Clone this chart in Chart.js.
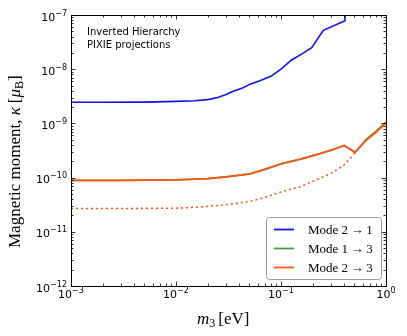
<!DOCTYPE html>
<html>
<head>
<meta charset="utf-8">
<script src="https://cdn.jsdelivr.net/npm/chart.js@4"></script>
<style>
  html, body { margin: 0; padding: 0; background: #fff; }
  canvas { display: block; }
</style>
</head>
<body>
<canvas id="kappaChart" width="407" height="336"></canvas>
<script>
// m3 values [eV] and kappa limits [mu_B]
const blueMass = [0.001, 0.002, 0.005, 0.01, 0.015, 0.02, 0.025, 0.03, 0.035, 0.043, 0.0507, 0.063, 0.08, 0.1, 0.126, 0.157, 0.196, 0.253, 0.407, 0.407];
const mode21 = [2.45e-9, 2.45e-9, 2.47e-9, 2.55e-9, 2.62e-9, 2.75e-9, 3.0e-9, 3.4e-9, 3.9e-9, 4.5e-9, 5.3e-9, 6.1e-9, 7.4e-9, 1.0e-8, 1.48e-8, 1.9e-8, 2.5e-8, 5.2e-8, 7.8e-8, 1e-6];

const modeMass = [0.001, 0.003, 0.01, 0.02, 0.03, 0.0507, 0.07, 0.1, 0.15, 0.235, 0.3, 0.40, 0.507, 0.655, 0.8, 1.0];
const mode13 = [8.9e-11, 8.9e-11, 9.1e-11, 9.6e-11, 1.03e-10, 1.17e-10, 1.42e-10, 1.79e-10, 2.17e-10, 2.77e-10, 3.2e-10, 3.93e-10, 2.92e-10, 5.2e-10, 7.1e-10, 1.05e-9];
const mode23 = [8.9e-11, 8.9e-11, 9.1e-11, 9.6e-11, 1.03e-10, 1.17e-10, 1.42e-10, 1.79e-10, 2.17e-10, 2.77e-10, 3.2e-10, 3.93e-10, 2.92e-10, 5.0e-10, 6.8e-10, 1.0e-9];

const dotMass = [0.001, 0.003, 0.01, 0.017, 0.03, 0.0507, 0.07, 0.105, 0.15, 0.219, 0.3, 0.39, 0.45, 0.507];
const mode23dot = [2.69e-11, 2.69e-11, 2.72e-11, 2.88e-11, 3.15e-11, 3.65e-11, 4.3e-11, 5.6e-11, 6.7e-11, 9.2e-11, 1.2e-10, 1.65e-10, 2.2e-10, 2.92e-10];

const xTickExps = [-3, -2, -1, 0];
const yTickExps = [-12, -11, -10, -9, -8, -7];
const legendLabels = ['Mode 2\u2009\u2192\u20091', 'Mode 1\u2009\u2192\u20093', 'Mode 2\u2009\u2192\u20093'];
const noteLines = ['Inverted Hierarchy', 'PIXIE projections'];

const BLUE = '#1010f0';
const GREEN = '#3f9f3f';
const ORANGE = '#ff5517';

function pts(xs, ys) {
  return xs.map((x, i) => ({ x: x, y: ys[i] }));
}

// draws "10" with a raised exponent (mathtext style minus)
function drawPow(ctx, exp, x, y, align) {
  const expText = String(exp).replace('-', '\u2212');
  ctx.font = '11px "DejaVu Sans"';
  const base = ctx.measureText('10').width;
  ctx.font = '8px "DejaVu Sans"';
  const sup = ctx.measureText(expText).width;
  const total = base + sup;
  let left = x;
  if (align === 'right') left = x - total;
  if (align === 'center') left = x - total / 2;
  ctx.textAlign = 'left';
  ctx.textBaseline = 'alphabetic';
  ctx.font = '11px "DejaVu Sans"';
  ctx.fillText('10', left, y);
  ctx.font = '8px "DejaVu Sans"';
  ctx.fillText(expText, left + base, y - 5);
}

const framePlugin = {
  id: 'frame',
  afterDraw(chart) {
    const ctx = chart.ctx;
    const a = chart.chartArea;
    const xs = chart.scales.x;
    const ys = chart.scales.y;
    ctx.save();
    ctx.fillStyle = '#000';
    ctx.strokeStyle = '#000';

    // box
    ctx.lineWidth = 1;
    ctx.strokeRect(Math.round(a.left) + 0.5, Math.round(a.top) + 0.5, Math.round(a.right - a.left), Math.round(a.bottom - a.top));

    // inward ticks on all four sides
    ctx.lineWidth = 0.8;
    ctx.beginPath();
    xTickExps.forEach((e, i) => {
      for (let k = 1; k <= 9; k++) {
        if (k > 1 && i === xTickExps.length - 1) break;
        const px = Math.round(xs.getPixelForValue(k * Math.pow(10, e))) + 0.5;
        const len = k === 1 ? 4.5 : 2.5;
        ctx.moveTo(px, a.bottom); ctx.lineTo(px, a.bottom - len);
        ctx.moveTo(px, a.top); ctx.lineTo(px, a.top + len);
      }
    });
    yTickExps.forEach((e, i) => {
      for (let k = 1; k <= 9; k++) {
        if (k > 1 && i === yTickExps.length - 1) break;
        const py = Math.round(ys.getPixelForValue(k * Math.pow(10, e))) + 0.5;
        const len = k === 1 ? 4.5 : 2.5;
        ctx.moveTo(a.left, py); ctx.lineTo(a.left + len, py);
        ctx.moveTo(a.right, py); ctx.lineTo(a.right - len, py);
      }
    });
    ctx.stroke();

    // tick labels
    xTickExps.forEach(e => {
      drawPow(ctx, e, xs.getPixelForValue(Math.pow(10, e)), a.bottom + 12, 'center');
    });
    yTickExps.forEach(e => {
      drawPow(ctx, e, a.left - 4, ys.getPixelForValue(Math.pow(10, e)) + 5.5, 'right');
    });

    // x axis title: m_3 [eV]
    ctx.textAlign = 'left';
    ctx.textBaseline = 'alphabetic';
    let cx = 197;
    const by = 324;
    ctx.font = 'italic 17px "Liberation Serif"';
    ctx.fillText('m', cx, by);
    cx += ctx.measureText('m').width;
    ctx.font = '12px "Liberation Serif"';
    ctx.fillText('3', cx, by + 3);
    cx += ctx.measureText('3').width + 3;
    ctx.font = '17px "Liberation Serif"';
    ctx.fillText('[eV]', cx, by);

    // y axis title
    ctx.translate(20, 248);
    ctx.rotate(-Math.PI / 2);
    let ty = 0;
    ctx.font = '17px "Liberation Serif"';
    ctx.fillText('Magnetic moment, ', ty, 0);
    ty += ctx.measureText('Magnetic moment, ').width;
    ctx.font = 'italic 17px "Liberation Serif"';
    ctx.fillText('\u03ba', ty, 0);
    ty += ctx.measureText('\u03ba').width + 4;
    ctx.font = '17px "Liberation Serif"';
    ctx.fillText('[', ty, 0);
    ty += ctx.measureText('[').width;
    ctx.font = 'italic 17px "Liberation Serif"';
    ctx.fillText('\u03bc', ty, 0);
    ty += ctx.measureText('\u03bc').width;
    ctx.font = '12px "Liberation Serif"';
    ctx.fillText('B', ty, 3);
    ty += ctx.measureText('B').width;
    ctx.font = '17px "Liberation Serif"';
    ctx.fillText(']', ty, 0);
    ctx.setTransform(1, 0, 0, 1, 0, 0);

    // annotation
    ctx.font = '10px "DejaVu Sans"';
    ctx.fillText(noteLines[0], 87, 35);
    ctx.fillText(noteLines[1], 87, 48);

    // legend
    const lx = 266, ly = 217, lw = 115, lh = 62;
    ctx.beginPath();
    ctx.roundRect(lx + 0.5, ly + 0.5, lw, lh, 3);
    ctx.fillStyle = '#fff';
    ctx.fill();
    ctx.strokeStyle = '#9a9a9a';
    ctx.lineWidth = 1;
    ctx.stroke();
    const legendColors = [BLUE, GREEN, ORANGE];
    legendLabels.forEach((lab, i) => {
      const yy = 229.5 + i * 19;
      ctx.strokeStyle = legendColors[i];
      ctx.lineWidth = 1.8;
      ctx.beginPath();
      ctx.moveTo(274, yy); ctx.lineTo(294, yy);
      ctx.stroke();
      ctx.fillStyle = '#000';
      ctx.font = '13px "Liberation Serif"';
      ctx.textAlign = 'left';
      ctx.fillText(lab, 308, yy + 4);
    });
    ctx.restore();
  }
};

new Chart(document.getElementById('kappaChart'), {
  type: 'line',
  data: {
    datasets: [
      { label: legendLabels[0], data: pts(blueMass, mode21), borderColor: BLUE, borderWidth: 1.6, order: 3 },
      { label: legendLabels[1], data: pts(modeMass, mode13), borderColor: GREEN, borderWidth: 1.8, order: 2 },
      { label: 'dotted', data: pts(dotMass, mode23dot), borderColor: ORANGE, borderWidth: 1.6, borderDash: [2, 3], order: 1 },
      { label: legendLabels[2], data: pts(modeMass, mode23), borderColor: ORANGE, borderWidth: 1.8, order: 0 }
    ]
  },
  options: {
    responsive: false,
    animation: false,
    layout: { padding: { top: 15, right: 21, left: 0, bottom: 0 } },
    elements: {
      point: { radius: 0 },
      line: { tension: 0, fill: false }
    },
    plugins: {
      legend: { display: false },
      tooltip: { enabled: false }
    },
    scales: {
      x: {
        type: 'logarithmic',
        min: 1e-3,
        max: 1,
        grid: { display: false },
        border: { display: false },
        ticks: { display: false },
        afterFit: s => { s.height = 50; }
      },
      y: {
        type: 'logarithmic',
        min: 1e-12,
        max: 1e-7,
        grid: { display: false },
        border: { display: false },
        ticks: { display: false },
        afterFit: s => { s.width = 71; }
      }
    }
  },
  plugins: [framePlugin]
});
</script>
</body>
</html>
